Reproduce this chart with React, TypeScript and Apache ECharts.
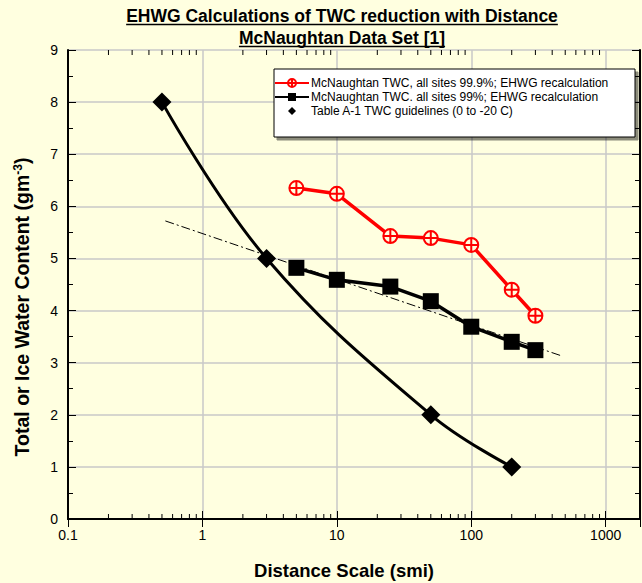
import React, { useEffect, useRef } from "react";
import * as echarts from "echarts";

// ---- data ----
const distances = [5, 10, 25, 50, 100, 200, 300];
const twc999 = [6.35, 6.24, 5.43, 5.39, 5.26, 4.4, 3.9];
const twc99 = [4.82, 4.59, 4.46, 4.18, 3.69, 3.4, 3.24];
const guideDist = [0.5, 3, 50, 200];
const guideTwc = [8, 5, 2, 1];
const trendDist = [0.53, 470];
const trendTwc = [5.72, 3.13];
const minorXTicks = [
  0.2, 0.3, 0.4, 0.5, 0.6, 0.7, 0.8, 0.9,
  2, 3, 4, 5, 6, 7, 8, 9,
  20, 30, 40, 50, 60, 70, 80, 90,
  200, 300, 400, 500, 600, 700, 800, 900,
];
const xMajorLabels = ["0.1", "1", "10", "100", "1000"];

const titleLine1 = "EHWG Calculations of TWC reduction with Distance";
const titleLine2 = "McNaughtan Data Set [1]";
const seriesNames = [
  "McNaughtan TWC, all sites 99.9%; EHWG recalculation",
  "McNaughtan TWC. all sites 99%; EHWG recalculation",
  "Table A-1 TWC guidelines (0 to -20 C)",
];

const BG = "#FFFFE0";
const FONT = "Arial, 'Liberation Sans', Helvetica, sans-serif";

function measure(text: string, font: string): number {
  const c = document.createElement("canvas");
  const ctx = c.getContext("2d");
  if (!ctx) return text.length * 8;
  ctx.font = font;
  return ctx.measureText(text).width;
}

export default function App() {
  const ref = useRef<HTMLDivElement>(null);

  useEffect(() => {
    if (!ref.current) return;
    const chart = echarts.init(ref.current, undefined, { renderer: "svg" });

    const titleFont = `bold 17.5px ${FONT}`;
    const w1 = measure(titleLine1, titleFont);
    const w2 = measure(titleLine2, titleFont);
    const tcx = 342;

    const circlePlus =
      "path://M10,0 A10,10 0 1 1 -10,0 A10,10 0 1 1 10,0 Z M-10,0 L10,0 M0,-10 L0,10";

    const xLabelFmt = (v: number) => {
      const l = Math.log10(v);
      if (Math.abs(l - Math.round(l)) > 1e-6) return "";
      const idx = Math.round(l) + 1;
      return xMajorLabels[idx] ?? "";
    };

    const commonX = {
      type: "log" as const,
      logBase: 10,
      min: 0.1,
      max: 1800,
    };

    const option: any = {
      animation: false,
      backgroundColor: BG,
      grid: { left: 68, right: 2, top: 50, bottom: 64, containLabel: false },
      xAxis: [
        {
          ...commonX,
          position: "bottom",
          axisLine: { show: true, lineStyle: { color: "#000", width: 2 } },
          axisTick: { show: true, inside: true, length: 8, lineStyle: { color: "#000", width: 1 } },
          axisLabel: {
            formatter: xLabelFmt,
            color: "#000",
            fontSize: 14,
            fontFamily: FONT,
            margin: 9,
            showMaxLabel: false,
          },
          splitLine: { show: true, lineStyle: { color: "#C8C8C8", width: 1.5 } },
          minorTick: { show: false },
        },
        {
          ...commonX,
          position: "top",
          axisLine: { show: true, lineStyle: { color: "#000", width: 2 } },
          axisTick: { show: true, inside: true, length: 8, lineStyle: { color: "#000", width: 1 } },
          axisLabel: { show: false },
          splitLine: { show: false },
        },
      ],
      yAxis: [
        {
          type: "value",
          min: 0,
          max: 9,
          interval: 1,
          position: "left",
          axisLine: { show: true, lineStyle: { color: "#000", width: 2 } },
          axisTick: { show: true, inside: true, length: 8, lineStyle: { color: "#000", width: 1 } },
          minorTick: { show: true, splitNumber: 2, length: 5, lineStyle: { color: "#000", width: 1 } },
          axisLabel: { color: "#000", fontSize: 14, fontFamily: FONT, margin: 10 },
          splitLine: { show: true, lineStyle: { color: "#C8C8C8", width: 1.5 } },
        },
        {
          type: "value",
          min: 0,
          max: 9,
          interval: 1,
          position: "right",
          axisLine: { show: true, lineStyle: { color: "#000", width: 2 } },
          axisTick: { show: true, inside: true, length: 8, lineStyle: { color: "#000", width: 1 } },
          minorTick: { show: true, splitNumber: 2, length: 5, lineStyle: { color: "#000", width: 1 } },
          axisLabel: { show: false },
          splitLine: { show: false },
        },
      ],
      legend: {
        orient: "vertical",
        left: 274,
        top: 77,
        itemWidth: 34,
        itemHeight: 10,
        itemGap: 2,
        padding: 0,
        z: 10,
        data: seriesNames,
        textStyle: { fontSize: 12, fontFamily: FONT, color: "#000", padding: [0, 0, 0, -3] },
      },
      graphic: [
        {
          type: "rect",
          z: 1,
          shape: { x: 274, y: 69, width: 361, height: 68 },
          style: {
            fill: "#FFFFFF",
            stroke: "#000",
            lineWidth: 1,
            shadowColor: "rgba(0,0,0,0.45)",
            shadowOffsetX: 3,
            shadowOffsetY: 3,
            shadowBlur: 0,
          },
        },
        {
          type: "text",
          x: tcx,
          y: 16,
          style: { text: titleLine1, font: titleFont, fill: "#000", align: "center", verticalAlign: "middle" },
        },
        {
          type: "line",
          shape: { x1: tcx - w1 / 2, y1: 24.5, x2: tcx + w1 / 2, y2: 24.5 },
          style: { stroke: "#000", lineWidth: 1.3 },
        },
        {
          type: "text",
          x: tcx,
          y: 38,
          style: { text: titleLine2, font: titleFont, fill: "#000", align: "center", verticalAlign: "middle" },
        },
        {
          type: "line",
          shape: { x1: tcx - w2 / 2, y1: 46.5, x2: tcx + w2 / 2, y2: 46.5 },
          style: { stroke: "#000", lineWidth: 1.3 },
        },
        {
          type: "text",
          x: 344,
          y: 570,
          style: {
            text: "Distance Scale (smi)",
            font: `bold 18.5px ${FONT}`,
            fill: "#000",
            align: "center",
            verticalAlign: "middle",
          },
        },
        {
          type: "text",
          x: 22,
          y: 307,
          rotation: Math.PI / 2,
          style: {
            text: "{a|Total or Ice Water Content (gm}{s|-3}{a|)}",
            rich: {
              a: { font: `bold 19.5px ${FONT}`, fill: "#000" },
              s: { font: `bold 12px ${FONT}`, fill: "#000", verticalAlign: "top" },
            },
            align: "center",
            verticalAlign: "middle",
          },
        },
      ],
      series: [
        {
          name: "minor",
          type: "custom",
          silent: true,
          clip: false,
          z: 5,
          data: minorXTicks.map((v) => [v, 0]),
          renderItem: (_params: any, api: any) => {
            const x = api.value(0);
            const b = api.coord([x, 0]);
            const t = api.coord([x, 9]);
            return {
              type: "group",
              children: [
                { type: "line", shape: { x1: b[0], y1: b[1], x2: b[0], y2: b[1] - 5 }, style: { stroke: "#000", lineWidth: 1 } },
                { type: "line", shape: { x1: t[0], y1: t[1], x2: t[0], y2: t[1] + 5 }, style: { stroke: "#000", lineWidth: 1 } },
              ],
            };
          },
        },
        {
          name: "guide-curve",
          type: "line",
          smooth: 0.4,
          showSymbol: false,
          symbol: "none",
          z: 3,
          data: guideDist.map((d, i) => [d, guideTwc[i]]),
          lineStyle: { color: "#000", width: 3 },
        },
        {
          name: seriesNames[0],
          type: "line",
          z: 4,
          data: distances.map((d, i) => [d, twc999[i]]),
          symbol: circlePlus,
          symbolSize: 14,
          itemStyle: { color: BG, borderColor: "#FF0000", borderWidth: 2 },
          lineStyle: { color: "#FF0000", width: 3.5 },
        },
        {
          name: seriesNames[1],
          type: "line",
          z: 4,
          data: distances.map((d, i) => [d, twc99[i]]),
          symbol: "rect",
          symbolSize: 16,
          itemStyle: { color: "#000" },
          lineStyle: { color: "#000", width: 3.5 },
        },
        {
          name: seriesNames[2],
          type: "line",
          z: 4,
          data: guideDist.map((d, i) => [d, guideTwc[i]]),
          symbol: "diamond",
          symbolSize: 19,
          showAllSymbol: true,
          itemStyle: { color: "#000", opacity: 1 },
          lineStyle: { width: 0, opacity: 0 },
        },
        {
          name: "trend",
          type: "line",
          z: 6,
          symbol: "none",
          data: trendDist.map((d, i) => [d, trendTwc[i]]),
          lineStyle: { color: "#000", width: 1, type: [9, 3, 2, 3] },
        },
      ],
    };

    chart.setOption(option);
    return () => chart.dispose();
  }, []);

  return (
    <div
      ref={ref}
      style={{ position: "fixed", left: 0, top: 0, width: 642, height: 583, background: BG }}
    />
  );
}
